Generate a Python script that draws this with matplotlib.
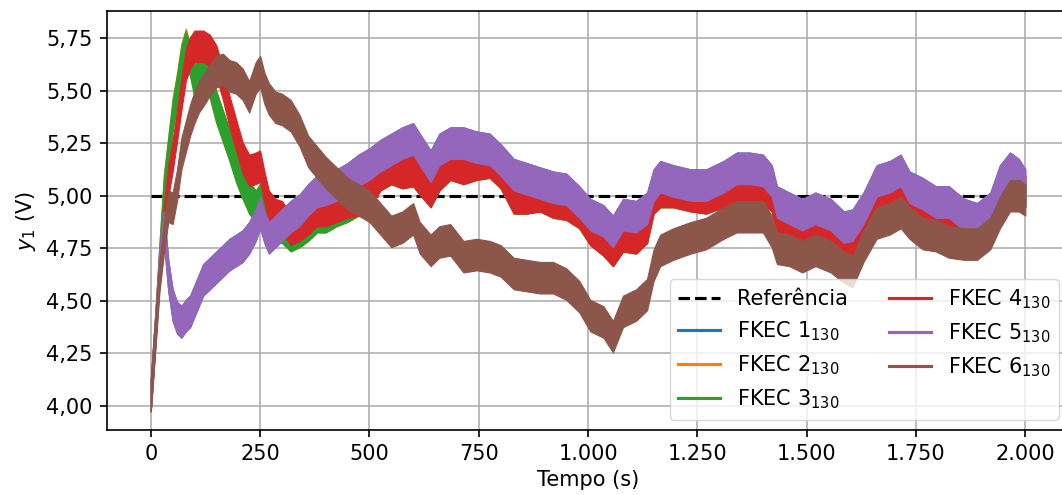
import matplotlib
matplotlib.use("Agg")
import matplotlib.pyplot as plt
from matplotlib.lines import Line2D
from matplotlib.ticker import FuncFormatter, MultipleLocator

# Sample instants (s) shared by every series
tempo = [0, 10, 20, 30, 40, 50, 60, 70, 80, 90, 100, 110, 120, 135, 150, 165, 180,
         195, 210, 225, 240, 250, 260, 270, 285, 300, 320, 340, 360, 380, 400, 425,
         450, 475, 500, 525, 550, 575, 600, 615, 640, 660, 685, 715, 745, 775, 800,
         830, 860, 890, 920, 950, 980, 1005, 1035, 1057, 1080, 1110, 1135, 1150, 1165,
         1195, 1235, 1270, 1310, 1340, 1370, 1400, 1420, 1432, 1460, 1490, 1520, 1555,
         1585, 1605, 1630, 1660, 1690, 1715, 1735, 1765, 1795, 1825, 1860, 1890, 1920,
         1942, 1965, 1985, 2000]

referencia = 5.0

fkec1 = [4.05, 4.35, 4.68, 4.86, 4.62, 4.48, 4.42, 4.40, 4.43, 4.45, 4.50, 4.55, 4.60,
         4.63, 4.66, 4.69, 4.72, 4.74, 4.76, 4.80, 4.86, 4.92, 4.85, 4.80, 4.83, 4.86,
         4.90, 4.93, 4.98, 5.02, 5.03, 5.05, 5.08, 5.12, 5.15, 5.19, 5.22, 5.25, 5.27,
         5.22, 5.14, 5.22, 5.25, 5.25, 5.23, 5.22, 5.17, 5.10, 5.08, 5.06, 5.04, 5.03,
         4.97, 4.91, 4.88, 4.83, 4.91, 4.90, 4.94, 5.05, 5.09, 5.07, 5.05, 5.05, 5.09,
         5.13, 5.13, 5.12, 5.07, 4.97, 4.94, 4.91, 4.94, 4.91, 4.85, 4.86, 4.94, 5.07,
         5.09, 5.12, 5.04, 5.01, 4.97, 4.97, 4.91, 4.89, 4.94, 5.07, 5.13, 5.10, 5.05]

fkec2 = [4.05, 4.36, 4.71, 5.03, 5.21, 5.39, 5.51, 5.65, 5.72, 5.65, 5.55, 5.59, 5.61,
         5.54, 5.42, 5.33, 5.24, 5.14, 5.06, 4.99, 4.95, 4.98, 4.93, 4.88, 4.86, 4.85,
         4.81, 4.83, 4.86, 4.90, 4.90, 4.93, 4.95, 4.98, 5.02, 5.10, 5.13, 5.11, 5.12,
         5.08, 5.02, 5.10, 5.15, 5.13, 5.15, 5.16, 5.11, 4.99, 4.99, 5.00, 4.97, 4.96,
         4.92, 4.84, 4.79, 4.74, 4.81, 4.80, 4.85, 4.99, 5.02, 5.02, 5.00, 4.99, 5.02,
         5.04, 5.05, 5.04, 5.00, 4.90, 4.87, 4.84, 4.87, 4.84, 4.80, 4.79, 4.88, 4.99,
         5.01, 5.04, 4.97, 4.94, 4.91, 4.90, 4.85, 4.84, 4.88, 5.00, 5.07, 5.05, 5.02]

fkec3 = [4.05, 4.36, 4.70, 5.02, 5.20, 5.38, 5.50, 5.64, 5.71, 5.64, 5.54, 5.58, 5.60,
         5.54, 5.42, 5.33, 5.24, 5.14, 5.06, 4.99, 4.95, 4.98, 4.93, 4.88, 4.86, 4.85,
         4.81, 4.83, 4.86, 4.90, 4.90, 4.93, 4.95, 4.98, 5.02, 5.10, 5.13, 5.11, 5.12,
         5.08, 5.02, 5.10, 5.15, 5.13, 5.15, 5.16, 5.11, 4.99, 4.99, 5.00, 4.97, 4.96,
         4.92, 4.84, 4.79, 4.74, 4.81, 4.80, 4.85, 4.99, 5.02, 5.02, 5.00, 4.99, 5.02,
         5.04, 5.05, 5.04, 5.00, 4.90, 4.87, 4.84, 4.87, 4.84, 4.80, 4.79, 4.88, 4.99,
         5.01, 5.04, 4.97, 4.94, 4.91, 4.90, 4.85, 4.84, 4.88, 5.00, 5.07, 5.05, 5.02]

fkec4 = [4.05, 4.35, 4.65, 4.88, 5.07, 5.19, 5.33, 5.48, 5.62, 5.68, 5.71, 5.71, 5.71,
         5.69, 5.64, 5.53, 5.40, 5.29, 5.18, 5.12, 5.13, 5.14, 5.04, 4.95, 4.91, 4.90,
         4.84, 4.86, 4.89, 4.93, 4.93, 4.95, 4.97, 4.98, 5.02, 5.10, 5.13, 5.11, 5.12,
         5.08, 5.02, 5.10, 5.15, 5.13, 5.15, 5.16, 5.11, 4.99, 4.99, 5.00, 4.97, 4.96,
         4.92, 4.84, 4.79, 4.74, 4.81, 4.80, 4.85, 4.99, 5.02, 5.02, 5.00, 4.99, 5.02,
         5.04, 5.05, 5.04, 5.00, 4.90, 4.87, 4.84, 4.87, 4.84, 4.80, 4.79, 4.88, 4.99,
         5.01, 5.04, 4.97, 4.94, 4.91, 4.90, 4.85, 4.84, 4.88, 5.00, 5.07, 5.05, 5.02]

fkec5 = [4.05, 4.35, 4.68, 4.85, 4.62, 4.48, 4.42, 4.40, 4.43, 4.45, 4.50, 4.55, 4.60,
         4.63, 4.66, 4.69, 4.72, 4.74, 4.76, 4.80, 4.86, 4.92, 4.85, 4.80, 4.83, 4.86,
         4.90, 4.93, 4.98, 5.02, 5.03, 5.05, 5.08, 5.12, 5.15, 5.19, 5.22, 5.25, 5.27,
         5.22, 5.14, 5.22, 5.25, 5.25, 5.23, 5.22, 5.17, 5.10, 5.08, 5.06, 5.04, 5.03,
         4.97, 4.91, 4.88, 4.83, 4.91, 4.90, 4.94, 5.05, 5.09, 5.07, 5.05, 5.05, 5.09,
         5.13, 5.13, 5.12, 5.07, 4.97, 4.94, 4.91, 4.94, 4.91, 4.85, 4.86, 4.94, 5.07,
         5.09, 5.12, 5.04, 5.01, 4.97, 4.97, 4.91, 4.89, 4.94, 5.07, 5.13, 5.10, 5.05]

fkec6 = [4.05, 4.33, 4.62, 4.80, 4.95, 4.94, 5.05, 5.20, 5.28, 5.36, 5.42, 5.47, 5.50,
         5.55, 5.59, 5.60, 5.57, 5.56, 5.53, 5.47, 5.56, 5.59, 5.51, 5.46, 5.42, 5.41,
         5.38, 5.31, 5.21, 5.16, 5.11, 5.06, 5.01, 4.98, 4.95, 4.89, 4.83, 4.85, 4.89,
         4.80, 4.74, 4.78, 4.79, 4.71, 4.72, 4.71, 4.69, 4.63, 4.62, 4.61, 4.61, 4.58,
         4.52, 4.43, 4.40, 4.33, 4.45, 4.48, 4.53, 4.67, 4.74, 4.77, 4.80, 4.82, 4.87,
         4.90, 4.90, 4.90, 4.83, 4.75, 4.74, 4.71, 4.74, 4.71, 4.66, 4.64, 4.76, 4.87,
         4.89, 4.92, 4.87, 4.82, 4.81, 4.78, 4.77, 4.77, 4.82, 4.92, 5.00, 5.00, 4.98]

series = [
    (r"FKEC $1_{130}$", fkec1, "#1f77b4"),
    (r"FKEC $2_{130}$", fkec2, "#ff7f0e"),
    (r"FKEC $3_{130}$", fkec3, "#2ca02c"),
    (r"FKEC $4_{130}$", fkec4, "#d62728"),
    (r"FKEC $5_{130}$", fkec5, "#9467bd"),
    (r"FKEC $6_{130}$", fkec6, "#8c564b"),
]

# half thickness of the noisy band drawn around each trace (V)
ruido = 0.075

FS = 15
LW = 2.25

plt.rcParams["font.family"] = ["DejaVu Sans"]
plt.rcParams["font.size"] = FS

fig = plt.figure(figsize=(10.62, 4.95), dpi=100)
ax = fig.add_axes([0.1008, 0.1313, 0.9058, 0.8465])

dash = (0, (3.7, 1.6))
handles = []
ax.plot(tempo, [referencia] * len(tempo), color="black", linestyle=dash,
        linewidth=LW, zorder=1.5)
handles.append(Line2D([], [], color="black", linestyle=dash, linewidth=LW,
                      label="Referência"))

for i, (nome, valores, cor) in enumerate(series):
    baixo = [v - ruido for v in valores]
    alto = [v + ruido for v in valores]
    ax.fill_between(tempo, baixo, alto, color=cor, linewidth=0.8,
                    edgecolor=cor, zorder=2 + i * 0.1)
    handles.append(Line2D([], [], color=cor, linewidth=LW, label=nome))

ax.set_xlim(-100, 2100)
ax.set_ylim(3.886, 5.878)
ax.xaxis.set_major_locator(MultipleLocator(250))
ax.yaxis.set_major_locator(MultipleLocator(0.25))


def fmt_x(v, pos):
    return f"{int(round(v)):,}".replace(",", ".")


def fmt_y(v, pos):
    return f"{v:.2f}".replace(".", ",")


ax.xaxis.set_major_formatter(FuncFormatter(fmt_x))
ax.yaxis.set_major_formatter(FuncFormatter(fmt_y))

ax.grid(True, color="#b0b0b0", linewidth=1.2, zorder=0)
ax.set_axisbelow(True)
for s in ax.spines.values():
    s.set_linewidth(1.2)
ax.tick_params(width=1.2, length=5.25, labelsize=FS, pad=5)

ax.set_xlabel("Tempo (s)", fontsize=FS, labelpad=4)
ax.set_ylabel(r"$y_1$ (V)", fontsize=FS, labelpad=6)

leg = ax.legend(handles=handles, ncol=2, loc="lower right", fontsize=FS,
                columnspacing=2.0, handlelength=2.0)
leg.set_zorder(10)

fig.savefig("out.png", dpi=100)
